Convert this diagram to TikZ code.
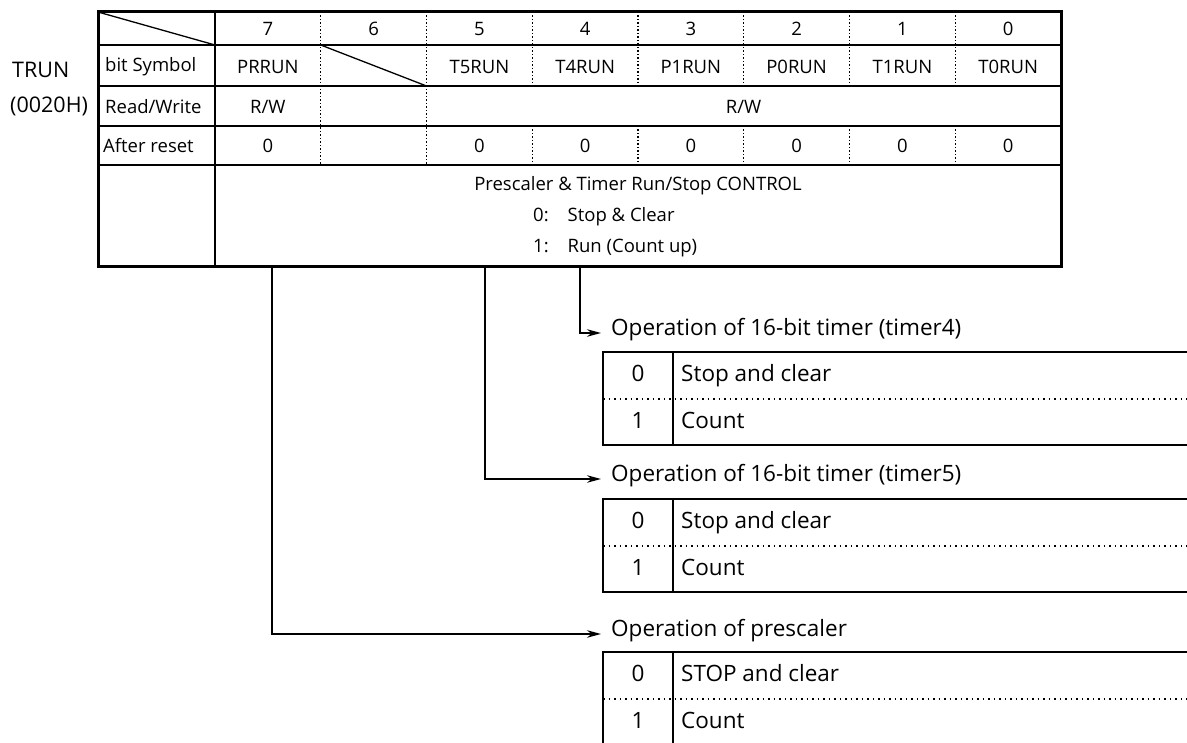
\documentclass[tikz,border=0pt]{standalone}
\usepackage{fontspec}
\setmainfont{Open Sans}
\usetikzlibrary{arrows.meta,positioning}

\tikzset{
  regtext/.style={font=\fontsize{21.5}{24}\selectfont, inner sep=0pt},
  tbltext/.style={font=\fontsize{18.5}{22}\selectfont, inner sep=0pt},
  optext/.style={font=\fontsize{22.5}{26}\selectfont, inner xsep=10pt, inner ysep=0pt, text height=0.75em, text depth=0.25em},
  gridline/.style={line width=1.3pt},
  dotv/.style={line width=1.3pt, dash pattern=on 1.2pt off 2.3pt},
  doth/.style={line width=1.3pt, dash pattern=on 1.5pt off 4pt},
  conn/.style={line width=1.3pt, -{Stealth[length=14pt,width=7.5pt]}},
}

\begin{document}
\begin{tikzpicture}[x=1pt, y=-1pt]
  \useasboundingbox (0,0) rectangle (1187,743);

  % Register name
  \node[regtext, anchor=west] (regname) at (12,70) {TRUN};
  \node[regtext, anchor=west] (regaddr) at (10,106) {(0020H)};

  % Register table grid
  \draw[line width=3pt] (98,12) rectangle (1061,267);
  \draw[line width=2.5pt] (98,45) -- (1061,45);
  \foreach \y in {86,126,165} \draw[gridline] (98,\y) -- (1061,\y);
  \draw[gridline] (215,12) -- (215,267);
  \foreach \i in {1,2} \draw[dotv] ({215+105.75*\i},12) -- ({215+105.75*\i},165);
  \foreach \i in {3,...,7} {
    \draw[dotv] ({215+105.75*\i},12) -- ({215+105.75*\i},86);
    \draw[dotv] ({215+105.75*\i},126) -- ({215+105.75*\i},165);
  }
  \draw[gridline] (98,12) -- (215,45);
  \draw[gridline] (320.75,45) -- (426.5,86);

  % Row labels
  \node[tbltext, anchor=west] (lblsym) at (105,67) {bit Symbol};
  \node[tbltext, anchor=west] (lblrw) at (105,107) {Read/Write};
  \node[tbltext, anchor=west] (lblrst) at (103,146) {After reset};

  % Bit numbers, symbols, reset values
  \foreach \b in {7,...,0}
    \node[tbltext] (hdr\b) at ({215+105.75*(7.5-\b)},29) {\b};
  \foreach \b/\s in {7/PRRUN, 5/T5RUN, 4/T4RUN, 3/P1RUN, 2/P0RUN, 1/T1RUN, 0/T0RUN} {
    \node[tbltext] (sym\b) at ({215+105.75*(7.5-\b)},67) {\s};
    \node[tbltext] (rst\b) at ({215+105.75*(7.5-\b)},146) {0};
  }
  \node[tbltext] (rw7) at (267.9,107) {R/W};
  \node[tbltext] (rwlow) at (743.5,107) {R/W};

  % Function description
  \node[tbltext] (desc) at (638,186) {Prescaler \& Timer Run/Stop CONTROL};
  \node[tbltext, anchor=west] (desc0) at (533,217) {0:\hspace{19pt}Stop \& Clear};
  \node[tbltext, anchor=west] (desc1) at (533,248) {1:\hspace{19pt}Run (Count up)};

  % Operation tables
  \node[optext, anchor=west] (op4) at (601,333) {Operation of 16-bit timer (timer4)};
  \node[optext, anchor=west] (op5) at (601,479) {Operation of 16-bit timer (timer5)};
  \node[optext, anchor=west] (oppr) at (601,634) {Operation of prescaler};
  \foreach \n/\t/\s in {4/352/Stop and clear, 5/499/Stop and clear, pr/652/STOP and clear} {
    \draw[gridline] (1187,\t) -- (603,\t) -- (603,\t+93) -- (1187,\t+93);
    \draw[gridline] (673,\t) -- (673,\t+93);
    \draw[doth] (603,\t+47) -- (1187,\t+47);
    \node[optext, inner xsep=0pt] (val0\n) at (638,\t+27) {0};
    \node[optext, anchor=west, inner xsep=0pt] (txt0\n) at (681,\t+27) {\s};
    \node[optext, inner xsep=0pt] (val1\n) at (638,\t+74) {1};
    \node[optext, anchor=west, inner xsep=0pt] (txt1\n) at (681,\t+74) {Count};
  }

  % Connectors
  \coordinate (t4src) at (580,267);
  \coordinate (t5src) at (485,267);
  \coordinate (prsrc) at (272,267);
  \draw[conn] (t4src) |- (op4.west);
  \draw[conn] (t5src) |- (op5.west);
  \draw[conn] (prsrc) |- (oppr.west);
\end{tikzpicture}
\end{document}
